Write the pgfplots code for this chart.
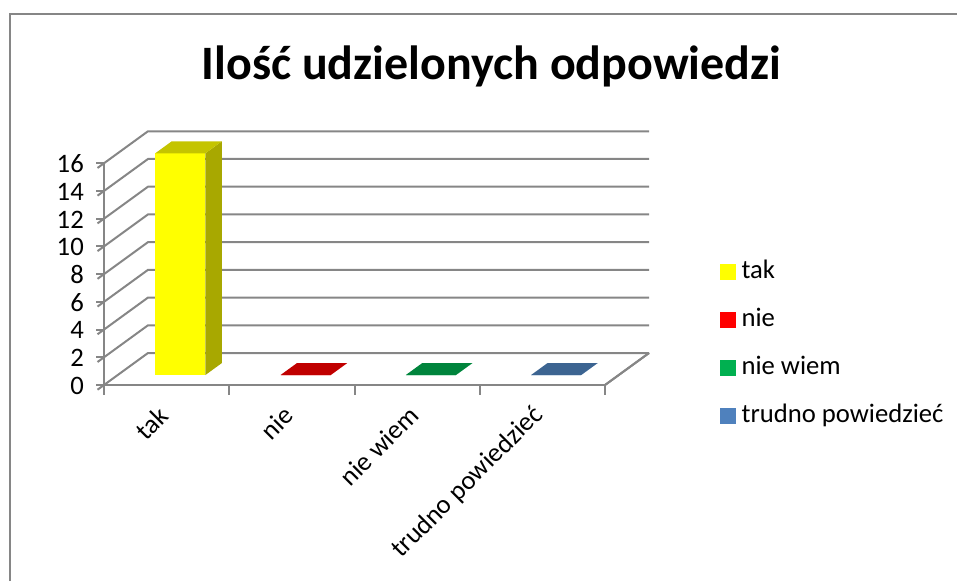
\documentclass[border=0pt]{standalone}
\usepackage{pgfplots}
\pgfplotsset{compat=1.18}
\usepackage{fontspec}
\setmainfont{Carlito}

\definecolor{gridgray}{RGB}{134,134,134}
\definecolor{cYellow}{RGB}{255,255,0}
\definecolor{cYellowSide}{RGB}{168,168,0}
\definecolor{cYellowTop}{RGB}{196,196,0}
\definecolor{cRed}{RGB}{255,0,0}
\definecolor{cRedTop}{RGB}{192,0,0}
\definecolor{cGreen}{RGB}{0,176,80}
\definecolor{cGreenTop}{RGB}{0,132,60}
\definecolor{cBlue}{RGB}{79,129,189}
\definecolor{cBlueTop}{RGB}{60,100,145}

% one 3D column: #1 left x, #2 right x, #3 value, #4 front, #5 side, #6 top
\newcommand{\cuboid}[6]{%
  \addplot3[forget plot, mark=none, draw=none, fill=#4] coordinates
    {(#1,0.3125,0) (#2,0.3125,0) (#2,0.3125,#3) (#1,0.3125,#3)};
  \addplot3[forget plot, mark=none, draw=none, fill=#5] coordinates
    {(#2,0.3125,0) (#2,0.6875,0) (#2,0.6875,#3) (#2,0.3125,#3)};
  \addplot3[forget plot, mark=none, draw=none, fill=#6] coordinates
    {(#1,0.3125,#3) (#2,0.3125,#3) (#2,0.6875,#3) (#1,0.6875,#3)};
}

\begin{document}
\begin{tikzpicture}
\path[use as bounding box] (0pt,0pt) rectangle (358.875pt,217.875pt);
\draw[gridgray, line width=0.75pt] (3.75pt,0pt) -- (3.75pt,212.625pt) -- (358.875pt,212.625pt);
\node[anchor=base, font=\fontsize{18}{22}\selectfont\bfseries] at (184.3pt,187.875pt)
  {Ilość udzielonych odpowiedzi};

\begin{axis}[
  at={(39pt,73.5pt)}, anchor=origin,
  x={(46.97pt,0pt)}, y={(16.5pt,12pt)}, z={(0pt,5.197pt)},
  xmin=0, xmax=4, ymin=0, ymax=1, zmin=0, zmax=16,
  clip=false,
  axis lines=left,
  axis line style={-, gridgray, line width=0.75pt},
  ytick=\empty,
  ztick={0,2,...,16},
  ztick style={gridgray, line width=0.75pt, /pgfplots/major tick length=3pt},
  tick align=outside,
  zticklabel style={anchor=east, xshift=-0.6pt, yshift=2.2pt,
    font=\fontsize{10}{12}\selectfont},
  /pgf/number format/assume math mode=true,
  xtick={0.5,1.5,2.5,3.5},
  xticklabels={tak, nie, nie wiem, trudno powiedzieć},
  xtick style={draw=none},
  xticklabel style={rotate=45, anchor=east, xshift=0pt, yshift=-6.7pt,
    font=\fontsize{10}{12}\selectfont},
  legend cell align=left,
  legend style={at={(1.115,0.535)}, anchor=north west, draw=none, fill=none,
    font=\fontsize{10}{12}\selectfont, row sep=5.6pt},
  legend image code/.code={\fill[#1] (0pt,-2.8pt) rectangle (5.6pt,2.8pt);},
]
% grid on the back wall and the left wall
\pgfplotsinvokeforeach{0,2,...,16}{
  \draw[gridgray, line width=0.75pt] (axis cs:0,0,#1) -- (axis cs:0,1,#1) -- (axis cs:4,1,#1);
}
\draw[gridgray, line width=0.75pt] (axis cs:4,0,0) -- (axis cs:4,1,0);
\pgfplotsinvokeforeach{0,1,...,4}{
  \draw[gridgray, line width=0.75pt] (axis cs:#1,0,0) -- ++(0pt,-3.75pt);
}

\cuboid{0.3}{0.7}{16}{cYellow}{cYellowSide}{cYellowTop}
\cuboid{1.3}{1.7}{0}{cRed}{cRed}{cRedTop}
\cuboid{2.3}{2.7}{0}{cGreen}{cGreen}{cGreenTop}
\cuboid{3.3}{3.7}{0}{cBlue}{cBlue}{cBlueTop}

\addlegendimage{cYellow}\addlegendentry{tak}
\addlegendimage{cRed}\addlegendentry{nie}
\addlegendimage{cGreen}\addlegendentry{nie wiem}
\addlegendimage{cBlue}\addlegendentry{trudno powiedzieć}
\end{axis}
\end{tikzpicture}
\end{document}
